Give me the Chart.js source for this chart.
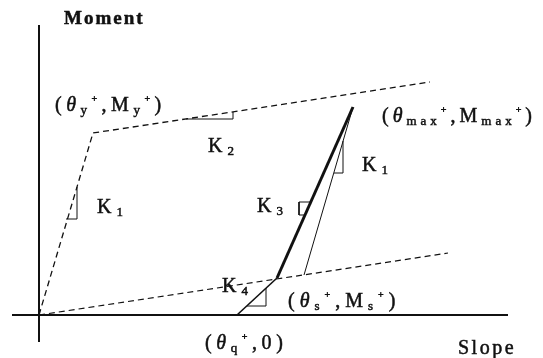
<!DOCTYPE html>
<html>
<head>
<meta charset="utf-8">
<script src="https://cdn.jsdelivr.net/npm/chart.js@4/dist/chart.umd.min.js"></script>
<style>
  html, body { margin: 0; background: #fff; }
  #wrap { width: 543px; height: 358px; }
</style>
</head>
<body>
<div id="wrap"><canvas id="myChart"></canvas></div>
<script>
// moment-slope model, arbitrary units (slope, moment)
const axisX = [-2.7, 46.9];          // horizontal axis extent
const axisY = [-2.7, 29.0];          // vertical axis extent

// skeleton: origin -> yield (K1) -> hardening branch (K2)
const skeletonSlope = [0, 5.4, 39.1];
const skeletonMoment = [0, 18.2, 23.3];

// lower reference line through the origin (K2)
const baseSlope = [0, 40.9];
const baseMoment = [0, 6.2];

// reloading from theta_q: K4 up to theta_s, then K3 up to theta_max
const reloadK4Slope = [19.8, 23.8];
const reloadK4Moment = [0, 3.7];
const reloadK3Slope = [23.8, 31.4];
const reloadK3Moment = [3.7, 20.8];

// unloading from theta_max with K1
const unloadSlope = [31.4, 26.5];
const unloadMoment = [20.8, 4.0];

// little slope triangles
const markK1aSlope = [2.7, 3.8, 3.8];
const markK1aMoment = [9.6, 9.6, 12.8];
const markK2Slope = [14.7, 19.4, 19.4];
const markK2Moment = [19.6, 19.6, 20.3];
const markK3Slope = [27.2, 26.0, 26.0, 26.6];
const markK3Moment = [11.3, 11.3, 10.0, 10.0];
const markK1bSlope = [29.5, 30.4, 30.4];
const markK1bMoment = [14.2, 14.2, 17.4];
const markK4Slope = [20.8, 22.7, 22.7];
const markK4Moment = [0.9, 0.9, 2.7];

// text: _{} subscript, ^{} superscript, *{} italic
const labels = [
    { x: 2.5, y: 29.7, text: 'Moment', size: 19, bold: true, gap: 2 },
    { x: 1.6, y: 21.1, text: '(*{θ}_{y}^{+},M_{y}^{+})', size: 20, gap: 4.5 },
    { x: 16.9, y: 17.0, text: 'K_{2}', size: 20, gap: 5 },
    { x: 34.3, y: 20.0, text: '(*{θ}_{max}^{+},M_{max}^{+})', size: 20, gap: 4 },
    { x: 5.8, y: 10.9, text: 'K_{1}', size: 20, gap: 5 },
    { x: 32.3, y: 15.1, text: 'K_{1}', size: 20, gap: 5 },
    { x: 21.8, y: 11.0, text: 'K_{3}', size: 20, gap: 5 },
    { x: 18.3, y: 3.0, text: 'K_{4}', size: 20, gap: 5 },
    { x: 24.9, y: 1.5, text: '(*{θ}_{s}^{+},M_{s}^{+})', size: 20, gap: 5 },
    { x: 16.6, y: -2.7, text: '(*{θ}_{q}^{+},0)', size: 20, gap: 4.6 },
    { x: 41.9, y: -3.2, text: 'Slope', size: 20, gap: 2.5 }
];

function pts(xs, ys) {
    return xs.map(function (v, i) { return { x: v, y: ys[i] }; });
}

function line(xs, ys, width, dash) {
    return {
        data: pts(xs, ys),
        showLine: true,
        borderColor: '#111',
        borderWidth: width,
        borderDash: dash || [],
        pointRadius: 0,
        fill: false,
        tension: 0
    };
}

function parse(s) {
    var out = [], re = /([_^*])\{([^}]*)\}|([^_^*]+)/g, m;
    while ((m = re.exec(s))) {
        if (m[3]) out.push({ t: m[3], k: 'n' });
        else out.push({ t: m[2], k: m[1] });
    }
    return out;
}

const textPlugin = {
    id: 'sketchText',
    afterDatasetsDraw: function (chart) {
        var ctx = chart.ctx, sx = chart.scales.x, sy = chart.scales.y;
        ctx.save();
        ctx.fillStyle = '#111';
        ctx.strokeStyle = '#111';
        ctx.lineWidth = 0.5;
        ctx.textBaseline = 'alphabetic';
        labels.forEach(function (lb) {
            var cx = sx.getPixelForValue(lb.x);
            var base = sy.getPixelForValue(lb.y) + lb.size * 0.33;
            parse(lb.text).forEach(function (seg) {
                var fs = lb.size, dy = 0, style = '';
                if (seg.k === '_') { fs = lb.size * 0.65; dy = lb.size * 0.15; }
                if (seg.k === '^') { fs = lb.size * 0.5; dy = -lb.size * 0.42; }
                if (seg.k === '*') { style = 'italic '; }
                ctx.font = style + (lb.bold ? 'bold ' : '') + fs + 'px "Liberation Serif"';
                for (var i = 0; i < seg.t.length; i++) {
                    var ch = seg.t[i];
                    ctx.fillText(ch, cx, base + dy);
                    ctx.strokeText(ch, cx, base + dy);
                    cx += ctx.measureText(ch).width + lb.gap;
                }
            });
        });
        ctx.restore();
    }
};

var ctx = document.getElementById('myChart').getContext('2d');
var myChart = new Chart(ctx, {
    type: 'scatter',
    data: {
        datasets: [
            line(axisX, [0, 0], 2),
            line([0, 0], axisY, 2),
            line(skeletonSlope, skeletonMoment, 1.3, [6, 4]),
            line(baseSlope, baseMoment, 1.2, [6, 4]),
            line(reloadK4Slope, reloadK4Moment, 1.6),
            line(reloadK3Slope, reloadK3Moment, 3),
            line(unloadSlope, unloadMoment, 1),
            line(markK1aSlope, markK1aMoment, 1),
            line(markK2Slope, markK2Moment, 1),
            line(markK3Slope, markK3Moment, 1),
            line(markK1bSlope, markK1bMoment, 1),
            line(markK4Slope, markK4Moment, 1)
        ]
    },
    options: {
        responsive: true,
        maintainAspectRatio: false,
        animation: false,
        layout: { padding: 0 },
        plugins: { legend: { display: false }, tooltip: { enabled: false } },
        scales: {
            x: { type: 'linear', display: false, min: -3.9, max: 50.4 },
            y: { type: 'linear', display: false, min: -4.3, max: 31.5 }
        }
    },
    plugins: [textPlugin]
});
</script>
</body>
</html>
